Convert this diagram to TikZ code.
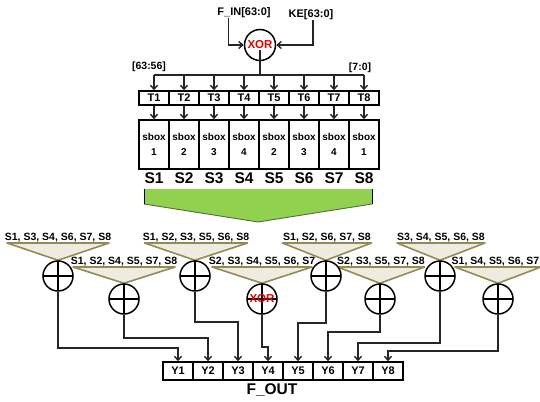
\documentclass[tikz,border=0pt]{standalone}
\usepackage{fontspec}
\setmainfont{Liberation Sans}
\usetikzlibrary{arrows.meta,calc}
\definecolor{trifill}{HTML}{EEECE1}
\definecolor{tridraw}{HTML}{948A54}
\definecolor{arrgreen}{HTML}{92D050}
\definecolor{xorred}{HTML}{E00000}
\pgfdeclarelayer{bg}
\pgfsetlayers{bg,main}
\begin{document}
\begin{tikzpicture}[x=1pt,y=-1pt,
  lbl/.style={font=\bfseries\fontsize{10.5}{12}\selectfont, inner sep=0pt},
  cell/.style={draw, line width=1.4pt, minimum width=30pt, inner sep=0pt, font=\bfseries\fontsize{11}{12}\selectfont},
  tcell/.style={cell, minimum height=14pt},
  scell/.style={cell, minimum height=49pt, align=center, font=\bfseries\fontsize{10}{15}\selectfont},
  ycell/.style={cell, minimum height=18pt},
  big/.style={font=\bfseries\fontsize{15.5}{16}\selectfont, inner sep=0pt},
  xcirc/.style={circle, draw, line width=1.5pt, fill=white, minimum size=30pt, inner sep=0pt,
    path picture={\draw[line width=1.3pt] (path picture bounding box.north) -- (path picture bounding box.south)
      (path picture bounding box.west) -- (path picture bounding box.east);}},
  xortxt/.style={text=xorred, font=\bfseries\fontsize{11.5}{12}\selectfont, inner sep=0pt},
  conn/.style={line width=1.4pt, black!85},
  arr/.style={conn, -{Straight Barb[length=4pt,width=7pt]}},
  tri/.style={fill=trifill, draw=tridraw, line width=1.6pt, line join=round},
]
\useasboundingbox (0,0) rectangle (540,401);

% ---- top XOR ----
\node[lbl, font=\bfseries\fontsize{11}{12}\selectfont] (fin) at (244,13) {F\_IN[63:0]};
\node[lbl, font=\bfseries\fontsize{11}{12}\selectfont] (ke) at (311,15) {KE[63:0]};
\node[circle, draw, line width=1.5pt, minimum size=31pt, inner sep=0pt] (xtop) at (260,45) {};
\draw[conn] ([yshift=-5pt]xtop.center) -- (xtop.south);
\node[xortxt] (xtoptxt) at (xtop) {XOR};
\draw[arr] ([xshift=11.5pt]fin.south west) |- (xtop.west);
\draw[arr] ([xshift=2pt]ke.south) |- (xtop.east);

% ---- T, sbox, S ----
\foreach \i/\n in {1/1,2/2,3/3,4/4,5/2,6/3,7/4,8/1}{
  \node[tcell] (t\i) at ({139+30*(\i-0.5)},98) {T\i};
  \node[scell] (s\i) at ({139+30*(\i-0.5)},144.5) {sbox\\\n};
  \node[big] (sl\i) at ({139+30*(\i-0.5)},178) {S\i};
  \draw[arr] (t\i.south) -- (s\i.north);
}
\draw[conn] (xtop.south) -- (xtop.south |- 0,75);
\draw[conn] (t1.north |- 0,75) -- (t8.north |- 0,75);
\foreach \i in {1,...,8}{
  \draw[arr] (t\i.north |- 0,75) -- (t\i.north);
}
\node[lbl] (lhi) at (149,67) {[63:56]};
\node[lbl] (llo) at (360,68) {[7:0]};

% ---- green arrow ----
\fill[arrgreen] (144,189) -- (372,189) -- (372,204) -- (258,222) -- (144,204) -- cycle;
\draw[arrgreen!55!black, line width=0.9pt] (144,204) -- (258,222) -- (372,204);
\draw[black, line width=0.9pt] (144,204) -- (144,189) (372,189) -- (372,204);

% ---- mixing circles ----
\foreach \c/\x/\y in {1/58/276,2/124/299,3/195/276,4/262/299,5/326/276,6/380/299,7/440/276,8/498/299}{
  \node[xcirc] (c\c) at (\x,\y) {};
}
\node[xortxt] (c4txt) at (c4) {XOR};

\foreach \c/\x/\lx/\top/\hw/\txt in {
  1/58/58/243/51/{S1, S3, S4, S6, S7, S8},
  2/124/124/267/51/{S1, S2, S4, S5, S7, S8},
  3/196/196/243/51.5/{S1, S2, S3, S5, S6, S8},
  4/262/262/267/50/{S2, S3, S4, S5, S6, S7},
  5/327/327/243/44.5/{S1, S2, S6, S7, S8},
  6/381/381/267/43.5/{S2, S3, S5, S7, S8},
  7/441/441/243/44/{S3, S4, S5, S6, S8},
  8/498/495.5/267/43/{S1, S4, S5, S6, S7}}{
  \node[lbl, anchor=base] (g\c) at (\lx,{\top-2.5}) {\txt};
  \begin{pgfonlayer}{bg}
    \draw[tri] (\x-\hw,\top) -- (\x+\hw,\top) -- (c\c.north) -- cycle;
  \end{pgfonlayer}
}

% ---- outputs ----
\foreach \i in {1,...,8}{
  \node[ycell] (y\i) at ({163+30*(\i-0.5)},371) {Y\i};
}
\node[big] (fout) at (272,390) {F\_OUT};

\foreach \c/\lev in {1/348,2/338,3/322,4/347,5/323,6/332,7/343,8/351}{
  \draw[arr] (c\c.south) -- (c\c.south |- 0,\lev) -| (y\c.north);
}
\end{tikzpicture}
\end{document}
